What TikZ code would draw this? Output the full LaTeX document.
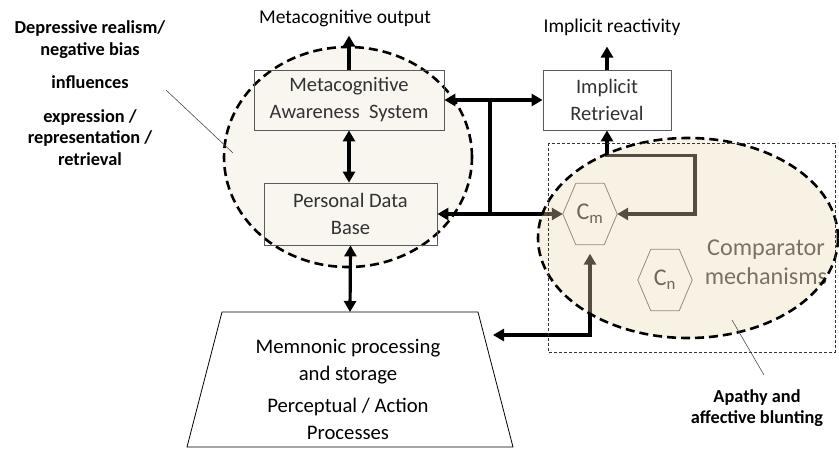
\documentclass[tikz,border=0pt]{standalone}
\usepackage{fontspec}
\setmainfont{Carlito}
\usetikzlibrary{arrows.meta,shapes.geometric}

\definecolor{paper}{RGB}{249,246,240}
\definecolor{sand}{RGB}{236,218,180}
\definecolor{boxline}{RGB}{90,90,90}
\definecolor{boxtext}{RGB}{50,50,50}

\begin{document}
\begin{tikzpicture}[x=1pt,y=-1pt,
  every node/.style={inner sep=0pt},
  box/.style={draw=boxline,line width=0.8pt,align=center,text=boxtext,font=\fontsize{20.5}{27}\selectfont},
  link/.style={line width=3.2pt,-{Triangle[length=11pt,width=12pt]}},
  dbl/.style={line width=3.2pt,{Triangle[length=11pt,width=12pt]}-{Triangle[length=11pt,width=12pt]}},
  blob/.style={ellipse,draw=black,line width=2.6pt,dash pattern=on 9pt off 5pt},
  hex/.style={minimum width=54pt,minimum height=61pt,text=black!85,font=\fontsize{24}{24}\selectfont},
  note/.style={align=center,font=\bfseries\fontsize{18.3}{21.5}\selectfont},
  title/.style={font=\fontsize{19.5}{22}\selectfont},
  pointer/.style={draw=black!70,line width=0.6pt}]

\useasboundingbox (0,0) rectangle (839,448);

% memory system, behind the boxes
\node[blob,fill=paper,minimum width=248pt,minimum height=220pt] (memsys) at (348,157) {};

\node[box,minimum width=190pt,minimum height=60pt] (meta) at (349,100) {Metacognitive\\Awareness~ System};
\node[box,minimum width=173pt,minimum height=62pt] (pdb) at (350.5,214) {Personal Data\\Base};
\node[box,fill=white,minimum width=128pt,minimum height=60pt] (implicit) at (607,100) {Implicit\\Retrieval};

% mnemonic block
\draw[line width=0.8pt] (222,312) -- (478,312) -- (513,447) -- (187,447) -- cycle;
\node[align=center,font=\fontsize{20.7}{27}\selectfont] (mem) at (348,389)
  {Memnonic processing\\and storage\\[5pt]Perceptual / Action\\Processes};
\coordinate (memtop) at (350,312);
\coordinate (memright) at (493,335);

\node[title] (metaout) at (345,18) {Metacognitive output};
\node[title] (implout) at (612,27) {Implicit reactivity};

% comparators
\node[hex] (cm) at (590,214) {C\textsubscript{m}};
\node[hex] (cn) at (665,280) {C\textsubscript{n}};
\foreach \h in {cm,cn}
  \draw[black!62,line width=0.8pt] (\h.west) -- ([xshift=13pt]\h.north west) -- ([xshift=-13pt]\h.north east)
    -- (\h.east) -- ([xshift=-13pt]\h.south east) -- ([xshift=13pt]\h.south west) -- cycle;
\node[align=center,text=black!78,font=\fontsize{24.2}{29}\selectfont] (comp) at (766,262) {Comparator\\mechanisms};

% arrows
\draw[link,shorten >=9pt] (meta.north) -- (meta.north |- metaout.south);
\draw[link,shorten >=11pt] (implicit.north) -- (implicit.north |- implout.south);
\draw[dbl] (meta.south) -- (meta.south |- pdb.north);
\draw[dbl] (pdb.south) -- (memtop);
\draw[dbl] (meta.east) -- (implicit.west);
\draw[dbl] (pdb.east) -- (cm.west);
\coordinate (bus) at (490,100);
\draw[line width=3.2pt] (bus) -- (bus |- pdb.east);
\coordinate (loopcorner) at (695,214);
\draw[dbl] (implicit.south) -- ++(0,25) -| (loopcorner) -- (cm.east);
\draw[dbl] (memright) -| ([yshift=-9pt]cm.south);

% tinted comparator field over the arrows
\node[blob,fill=sand,fill opacity=0.36,minimum width=300pt,minimum height=200pt] (comparators) at (688,238) {};
\draw[black!80,line width=0.7pt,dash pattern=on 3pt off 2pt] (548,143) rectangle (835,352);

% side notes
\node[note] (bias) at (90,93) {Depressive realism/\\negative bias\\[12pt]influences\\[12pt]expression /\\representation /\\retrieval};
\coordinate (biasfrom) at (166,90);
\coordinate (biasto) at (233,153);
\draw[pointer] (biasfrom) -- (biasto);

\node[note] (apathy) at (757,408) {Apathy and\\affective blunting};
\coordinate (apathyfrom) at (764,375);
\coordinate (apathyto) at (732,320);
\draw[pointer] (apathyfrom) -- (apathyto);
\end{tikzpicture}
\end{document}
